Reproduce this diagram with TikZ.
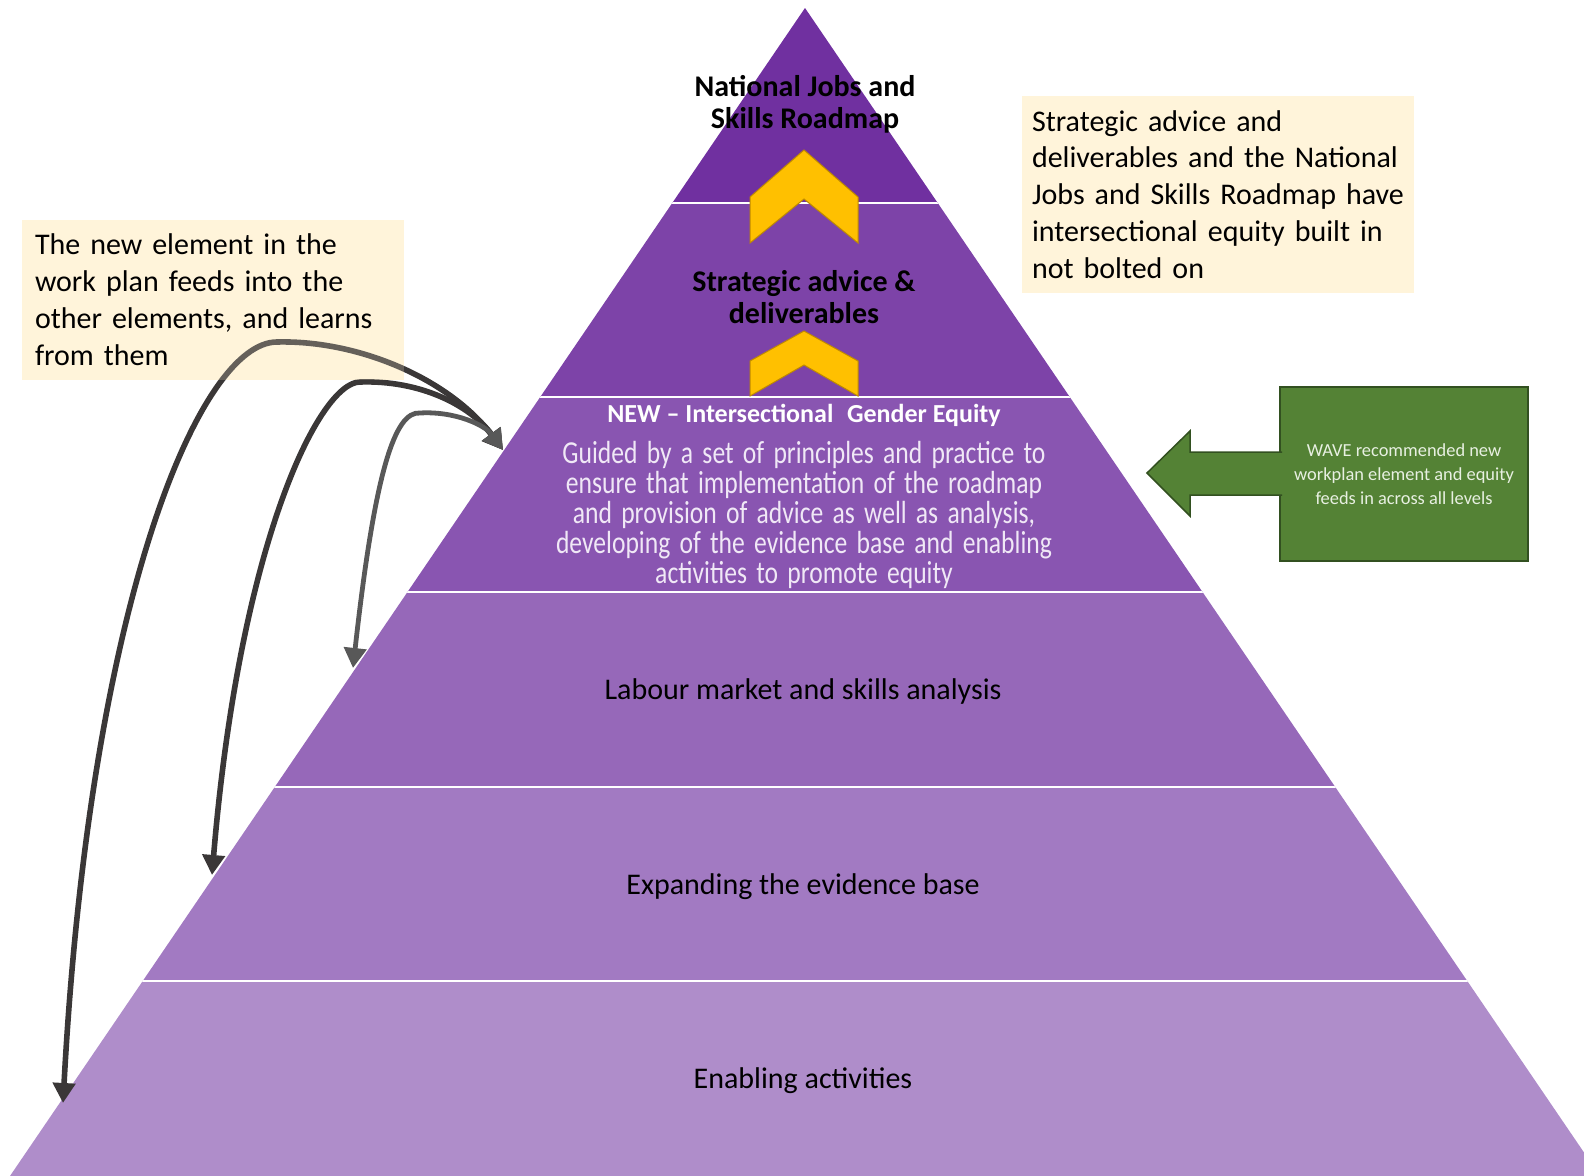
\documentclass[tikz,border=0pt]{standalone}
\usepackage{fontspec}
\setmainfont{Carlito}
\newfontfamily\narrowfont[FakeStretch=0.8, WordSpace=1.6]{Carlito}
\usetikzlibrary{arrows.meta}

\definecolor{bandtop}{RGB}{112,48,160}
\definecolor{bandbot}{RGB}{175,141,202}
\definecolor{chevfill}{RGB}{255,192,0}
\definecolor{chevline}{RGB}{191,138,0}
\definecolor{notefill}{RGB}{255,244,218}
\definecolor{wavefill}{RGB}{84,130,53}
\definecolor{waveline}{RGB}{50,80,32}
\definecolor{wavetext}{RGB}{232,240,226}
\definecolor{linkdark}{RGB}{58,55,55}
\definecolor{linkgrey}{RGB}{88,88,88}
\definecolor{bandtext}{RGB}{240,232,246}

\tikzset{
	title/.style={font=\bfseries\fontsize{15}{16}\selectfont, align=center},
	heading/.style={font=\bfseries\fontsize{13}{15}\selectfont, text=white},
	body/.style={font=\narrowfont\fontsize{16}{15}\selectfont, text=bandtext, align=center},
	level/.style={font=\fontsize{15}{18}\selectfont},
	note/.style={fill=notefill, inner sep=0pt, align=left, font=\fontsize{15}{18.4}\selectfont},
	wavebox/.style={fill=wavefill, draw=waveline, line width=0.75pt, text=wavetext, align=center,
		minimum width=124pt, minimum height=87pt, inner sep=0pt, font=\fontsize{9.2}{12}\selectfont},
	chev/.style={fill=chevfill, draw=chevline, line width=0.5pt},
	link/.style={line width=2.8pt, draw=linkdark, {Triangle[length=10pt,width=11pt]}-{Triangle[length=10pt,width=11pt]}}
}

\begin{document}
\begin{tikzpicture}[x=0.5pt, y=-0.5pt]
	\useasboundingbox (0,0) rectangle (1584,1176);
	\clip (0,0) rectangle (1584,1176);

	% pyramid bands
	\begin{scope}
		\clip (805,8) -- (10,1176) -- (1600,1176) -- cycle;
		\foreach \k in {0,...,5} {
			\pgfmathtruncatemacro{\mix}{100-20*\k}
			\fill[bandtop!\mix!bandbot] (0,8+194.67*\k) rectangle (1600,8+194.67*\k+194.67);
		}
		\foreach \k in {1,...,5}
			\draw[white, line width=1.1pt] (0,8+194.67*\k) -- (1600,8+194.67*\k);
	\end{scope}

	\filldraw[chev] (750,197) -- (804,150) -- (858,197) -- (858,243) -- (804,199) -- (750,243) -- cycle;
	\filldraw[chev] (750,361) -- (804,331) -- (858,361) -- (858,396) -- (804,365) -- (750,396) -- cycle;

	\node[title] (roadmap) at (805,104) {National Jobs and\\Skills Roadmap};
	\node[title] (advice) at (804,297) {Strategic advice \&\\deliverables};
	\node[heading] (new) at (804,415) {NEW – Intersectional\hspace{0.3em} Gender Equity};
	\node[body] (guide) at (804,515) {Guided by a set of principles and practice to\\
		ensure that implementation of the roadmap\\
		and provision of advice as well as analysis,\\
		developing of the evidence base and enabling\\
		activities to promote equity};
	\node[level] (analysis) at (803,691) {Labour market and skills analysis};
	\node[level] (evidence) at (803,887) {Expanding the evidence base};
	\node[level] (enabling) at (803,1081) {Enabling activities};

	\node[note, minimum width=196pt, minimum height=98.5pt, text width=186pt] (builtin) at (1218,194.5)
		{Strategic advice and\\deliverables and the National\\Jobs and Skills Roadmap have\\intersectional equity built in\\not bolted on};

	\node[wavebox] (wave) at (1404,474) {WAVE recommended new\\workplan element and equity\\feeds in across all levels};
	\filldraw[fill=wavefill, draw=waveline, line width=0.75pt] (1282,452) -- (1190,452) -- (1190,431) -- (1147,473)
		-- (1190,516) -- (1190,495) -- (1282,495);

	% note box under the links, tinted again on top of them
	\node[note, minimum width=191pt, minimum height=80pt] (feedsback) at (213,300) {};

	% links from the new element to the lower levels
	\coordinate (feedin) at (503,450);
	\coordinate (toanalysis) at (353,668);
	\coordinate (toevidence) at (212,875);
	\coordinate (toenabling) at (63,1103);
	\draw[link] (feedin) .. controls (450,380) and (360,340) .. (277,342) .. controls (200,342) and (90,600) .. (toenabling);
	\draw[link] (feedin) .. controls (470,405) and (420,380) .. (360,382) .. controls (320,382) and (240,540) .. (toevidence);
	\draw[link, draw=linkgrey, line width=2.4pt] (feedin) .. controls (485,425) and (455,411) .. (420,413) .. controls (395,411) and (375,470) .. (toanalysis);

	\node[note, fill opacity=0.22, text opacity=1, minimum width=191pt, minimum height=80pt, text width=178pt,
		font=\fontsize{15}{18.5}\selectfont] (feeds) at (213,300)
		{The new element in the\\work plan feeds into the\\other elements, and learns\\from them};
\end{tikzpicture}
\end{document}
